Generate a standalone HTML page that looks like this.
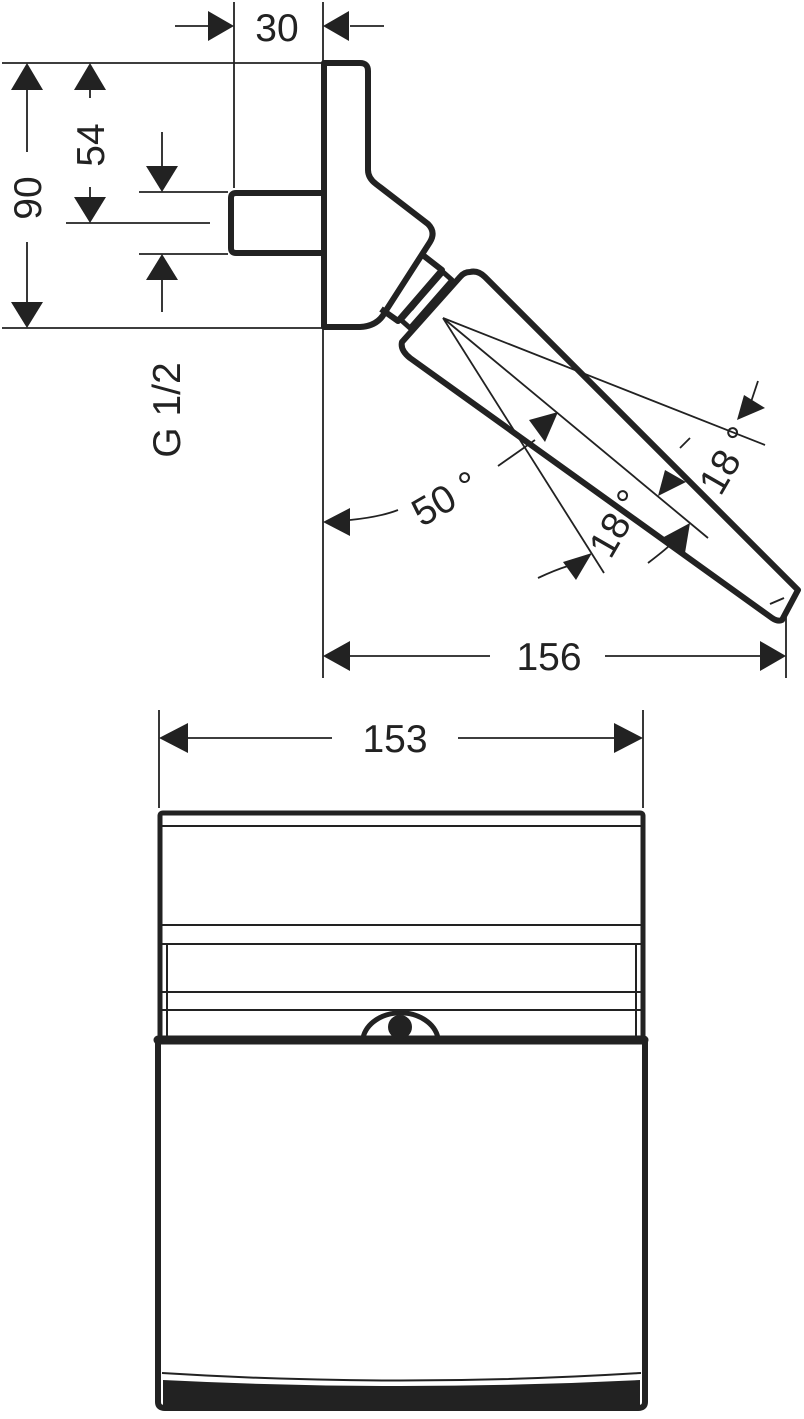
<!DOCTYPE html>
<html><head><meta charset="utf-8"><style>
html,body{margin:0;padding:0;background:#fff;}
svg{display:block;}
text{font-family:"Liberation Sans",sans-serif;fill:#222;}
</style></head><body>
<svg width="804" height="1419" viewBox="0 0 804 1419" xmlns="http://www.w3.org/2000/svg">
<g stroke="#222" fill="none">
<g stroke-width="1.8">
<line x1="2" y1="63" x2="322" y2="63"/>
<line x1="2" y1="328" x2="322" y2="328"/>
<line x1="234" y1="2" x2="234" y2="188"/>
<line x1="323" y1="2" x2="323" y2="62"/>
<line x1="323" y1="328" x2="323" y2="678"/>
<line x1="175" y1="26" x2="210" y2="26"/>
<line x1="350" y1="26" x2="384" y2="26"/>
<line x1="27" y1="90" x2="27" y2="152"/>
<line x1="27" y1="242" x2="27" y2="305"/>
<line x1="90" y1="88" x2="90" y2="98"/>
<line x1="90" y1="187" x2="90" y2="197"/>
<line x1="66" y1="223" x2="210" y2="223"/>
<line x1="139" y1="192" x2="228" y2="192"/>
<line x1="139" y1="254" x2="228" y2="254"/>
<line x1="162" y1="132" x2="162" y2="168"/>
<line x1="162" y1="278" x2="162" y2="312"/>
<line x1="350" y1="656" x2="490" y2="656"/>
<line x1="605" y1="656" x2="762" y2="656"/>
<line x1="786" y1="610" x2="786" y2="678"/>
<line x1="159" y1="710" x2="159" y2="808"/>
<line x1="643" y1="710" x2="643" y2="808"/>
<line x1="186" y1="738" x2="332" y2="738"/>
<line x1="458" y1="738" x2="616" y2="738"/>
<line x1="443" y1="318" x2="765" y2="445"/>
<line x1="443" y1="318" x2="708" y2="538"/>
<line x1="443" y1="318" x2="604" y2="573"/>
<path d="M350 520 Q380 517 398 510"/>
<path d="M498 466 L535 440"/>
<path d="M538 578 Q555 570 568 566"/>
<path d="M648 563 Q665 550 670 545"/>
<path d="M680 448 L690 438"/>
<path d="M758 381 L750 405"/>
</g>
<g fill="#222" stroke="none">
<polygon points="234,26 208,11 208,41"/>
<polygon points="323,26 349,11 349,41"/>
<polygon points="27,63 11,90 43,90"/>
<polygon points="27,328 11,302 43,302"/>
<polygon points="90,63 74,90 106,90"/>
<polygon points="90,223 74,197 106,197"/>
<polygon points="162,192 146,166 178,166"/>
<polygon points="162,254 146,280 178,280"/>
<polygon points="323,656 350,641 350,671"/>
<polygon points="786,656 760,641 760,671"/>
<polygon points="159,738 188,723 188,753"/>
<polygon points="643,738 614,723 614,753"/>
<polygon points="323,522 350,508 350,536"/>
<polygon points="558,412 529,420 545,442"/>
<polygon points="592,553 563,562 576,580"/>
<polygon points="690,523 662,538 685,553"/>
<polygon points="658,496 686,482 665,470"/>
<polygon points="737,420 765,408 744,395"/>
</g>
</g>
<text x="277" y="41" font-size="39" text-anchor="middle">30</text>
<text transform="translate(41,198) rotate(-90)" font-size="39" text-anchor="middle">90</text>
<text transform="translate(104,145) rotate(-90)" font-size="39" text-anchor="middle">54</text>
<text transform="translate(180,410) rotate(-90)" font-size="39" text-anchor="middle">G 1/2</text>
<text transform="translate(452,510) rotate(-30)" font-size="39" text-anchor="middle">50 °</text>
<text transform="translate(628,530) rotate(-60)" font-size="39" text-anchor="middle">18 °</text>
<text transform="translate(738,467) rotate(-60)" font-size="39" text-anchor="middle">18 °</text>
<text x="549" y="670" font-size="39" text-anchor="middle">156</text>
<text x="395" y="752" font-size="39" text-anchor="middle">153</text>

<g stroke="#222" fill="none" stroke-width="6" stroke-linejoin="round">
<path d="M323 193 L236 193 Q231 193 231 198 L231 248 Q231 253 236 253 L323 253"/>
<path d="M324 63 L360 63 Q368 63 368 71 L368 170 Q368 178 376 184 L428 224 Q436 232 430 242 L385 312 Q378 326 360 327 L324 327 Z"/>
<path d="M424 256 L442 270 L398 321 L381 309"/>
<path d="M443 272 L452 280 L410 328 L401 320 Z" stroke-width="5"/>
<path d="M470 272 Q478 270 485 277 L798 590 L782 620 Q778 622 772 618 L410 358 Q400 350 402 342 L460 277 Q464 272 470 272 Z"/>
</g>
<g stroke="#222" stroke-width="2" fill="none">
<line x1="430" y1="288" x2="412" y2="310"/>
<line x1="770" y1="604" x2="784" y2="598"/>
</g>

<g stroke="#222" fill="none">
<path d="M160 1040 L160 816 Q160 813 163 813 L640 813 Q643 813 643 816 L643 1040" stroke-width="5"/>
<g stroke-width="2">
<line x1="162" y1="826" x2="641" y2="826"/>
<line x1="162" y1="925" x2="641" y2="925"/>
<line x1="162" y1="944" x2="641" y2="944"/>
<line x1="162" y1="992" x2="641" y2="992"/>
<line x1="162" y1="1010" x2="641" y2="1010"/>
<line x1="167" y1="944" x2="167" y2="1036"/>
<line x1="636" y1="944" x2="636" y2="1036"/>
</g>
<path d="M363 1038 A38 30 0 0 1 438 1038" stroke-width="5"/>
<path d="M158 1040 L644 1040" stroke-width="9" stroke-linecap="round"/>
<path d="M158 1042 L158 1402 Q158 1408 165 1408 L638 1408 Q645 1408 645 1402 L645 1042" stroke-width="6"/>
<path d="M162 1373 Q400 1388 641 1373" stroke-width="2"/>
</g>
<circle cx="400" cy="1027" r="12" fill="#222"/>
<path d="M163 1380 Q400 1392 640 1380 L640 1405 L163 1405 Z" fill="#222"/>
</svg>
</body></html>
